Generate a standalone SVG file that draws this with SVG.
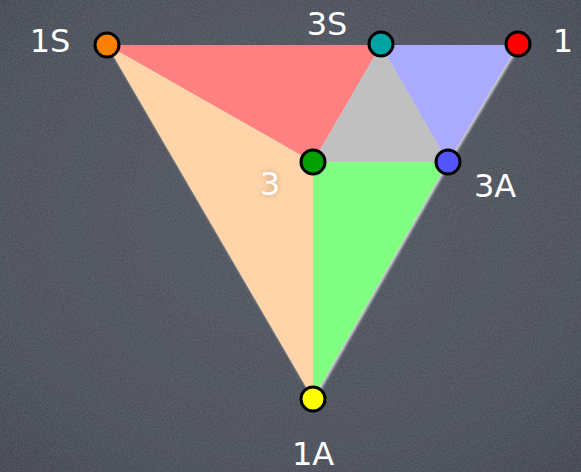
<svg xmlns="http://www.w3.org/2000/svg" width="581" height="472" viewBox="0 0 581 472">
  <defs>
    <radialGradient id="bg" cx="50%" cy="45%" r="75%">
      <stop offset="0" stop-color="#4c525e"/>
      <stop offset="0.7" stop-color="#454b57"/>
      <stop offset="1" stop-color="#3a3f4a"/>
    </radialGradient>
    <filter id="chalk" x="0" y="0" width="100%" height="100%">
      <feTurbulence type="fractalNoise" baseFrequency="0.6" numOctaves="2" seed="3" result="n"/>
      <feColorMatrix in="n" type="matrix" values="0 0 0 0 1  0 0 0 0 1  0 0 0 0 1  0 0 0 0.06 0" result="w"/>
      <feComposite in="w" in2="SourceGraphic" operator="in" result="wc"/>
      <feMerge><feMergeNode in="SourceGraphic"/><feMergeNode in="wc"/></feMerge>
    </filter>
    <filter id="glow" x="-20%" y="-20%" width="140%" height="140%">
      <feDropShadow dx="1.5" dy="2" stdDeviation="1" flood-color="#ffffff" flood-opacity="0.7"/>
    </filter>
    <filter id="halo" x="-50%" y="-50%" width="200%" height="200%">
      <feDropShadow dx="0" dy="0" stdDeviation="3" flood-color="#000000" flood-opacity="0.25"/>
    </filter>
  </defs>
  <style>
    .lbl { font-family: "DejaVu Sans", "Liberation Sans", sans-serif; font-size: 32px; fill: #ffffff; text-anchor: middle; }
    .pt { stroke: #000000; stroke-width: 3; }
    .reg { stroke: none; }
  </style>
  <rect x="0" y="0" width="581" height="472" fill="url(#bg)" filter="url(#chalk)"/>

  <g id="regions" filter="url(#glow)">
    <polygon class="reg" points="107,45 381,45 313,162" fill="#ff8080"/>
    <polygon class="reg" points="381,45 448,162 313,162" fill="#c0c0c0"/>
    <polygon class="reg" points="381,45 518,45 448,162" fill="#aaaaff"/>
    <polygon class="reg" points="107,45 313,162 313,399" fill="#ffd4a8"/>
    <polygon class="reg" points="313,162 448,162 313,399" fill="#80ff80"/>
  </g>

  <g id="n1S">
    <circle class="pt" cx="107" cy="45" r="12" fill="#ff8000"/>
    <text class="lbl" x="50" y="52">1S</text>
  </g>
  <g id="n3S">
    <circle class="pt" cx="381" cy="44" r="12" fill="#00a3a3"/>
    <text class="lbl" x="327" y="35">3S</text>
  </g>
  <g id="n1">
    <circle class="pt" cx="518" cy="44" r="12" fill="#ff0000"/>
    <text class="lbl" x="563" y="52">1</text>
  </g>
  <g id="n3">
    <circle class="pt" cx="313" cy="162" r="12" fill="#00a000"/>
    <text class="lbl" x="270" y="195" filter="url(#halo)">3</text>
  </g>
  <g id="n3A">
    <circle class="pt" cx="448" cy="162" r="12" fill="#5555ff"/>
    <text class="lbl" x="495" y="197">3A</text>
  </g>
  <g id="n1A">
    <circle class="pt" cx="313" cy="399" r="12" fill="#ffff00"/>
    <text class="lbl" x="313" y="465">1A</text>
  </g>
</svg>
